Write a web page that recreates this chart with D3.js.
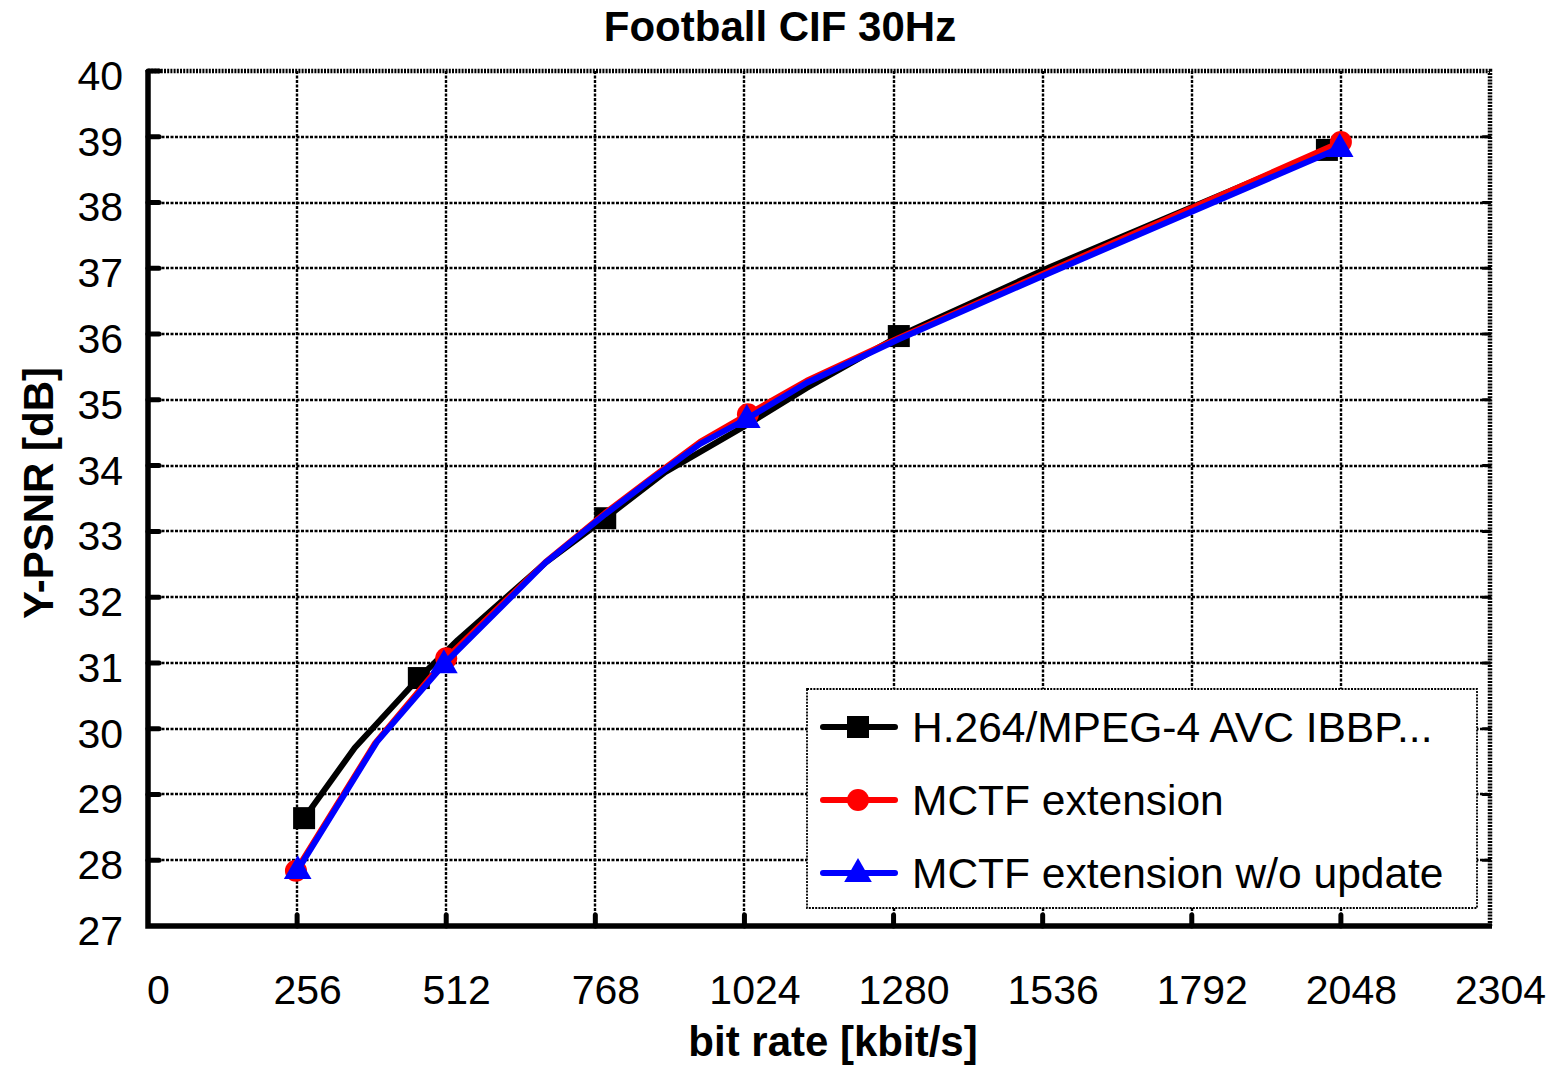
<!DOCTYPE html>
<html>
<head>
<meta charset="utf-8">
<script src="https://cdn.jsdelivr.net/npm/d3@7"></script>
<style>
  html, body { margin: 0; padding: 0; background: #fff; }
  svg { display: block; font-family: "Liberation Sans", Arial, sans-serif; }
</style>
</head>
<body>
<svg id="chart" width="1552" height="1065"></svg>
<script>
// Rate-distortion curves, Football CIF 30Hz
const xTicks = [0, 256, 512, 768, 1024, 1280, 1536, 1792, 2048, 2304];
const yTicks = [27, 28, 29, 30, 31, 32, 33, 34, 35, 36, 37, 38, 39, 40];

// H.264/MPEG-4 AVC IBBP... (bit rate kbit/s, Y-PSNR dB)
const avcRate = [268, 355, 465, 532, 682, 785, 888, 1028, 1131, 1289, 1549, 2024];
const avcPsnr = [28.64, 29.71, 30.77, 31.35, 32.52, 33.20, 33.90, 34.62, 35.18, 35.97, 37.02, 38.80];
const avcMarked = [268, 465, 785, 1289, 2024];

// MCTF extension
const mctfRate = [254, 390, 512, 682, 785, 867, 948, 1030, 1131, 1289, 1540, 2048];
const mctfPsnr = [27.84, 29.78, 31.07, 32.53, 33.28, 33.83, 34.36, 34.78, 35.29, 35.94, 36.93, 38.92];
const mctfMarked = [254, 512, 1030, 2048];

// MCTF extension w/o update
const noUpdRate = [257, 393, 508, 682, 785, 867, 948, 1028, 1131, 1289, 1540, 2046];
const noUpdPsnr = [27.85, 29.80, 30.98, 32.52, 33.26, 33.81, 34.33, 34.71, 35.26, 35.92, 36.90, 38.83];
const noUpdMarked = [257, 508, 1028, 2046];

const seriesNames = ["H.264/MPEG-4 AVC IBBP...", "MCTF extension", "MCTF extension w/o update"];
const seriesColors = ["#000000", "#ff0000", "#0000ff"];
const seriesShapes = ["square", "circle", "triangle"];

const svg = d3.select("#chart");
const pL = 148, pR = 1490, pT = 71, pB = 926;

const x = d3.scaleLinear().domain([0, 2304]).range([pL, pR]);
const y = d3.scaleLinear().domain([27, 40]).range([pB, pT]);

// grid
const grid = svg.append("g").attr("stroke", "#000").attr("stroke-width", 2.4)
  .attr("stroke-dasharray", "3,1.5");
grid.selectAll("line.v").data(xTicks.slice(1, -1)).join("line").attr("class", "v")
  .attr("x1", d => Math.round(x(d))).attr("x2", d => Math.round(x(d))).attr("y1", pT).attr("y2", pB);
grid.selectAll("line.h").data(yTicks.slice(1, -1)).join("line").attr("class", "h")
  .attr("x1", pL).attr("x2", pR).attr("y1", d => Math.round(y(d))).attr("y2", d => Math.round(y(d)));

// dotted top and right frame
svg.append("path")
  .attr("d", `M${pL},${pT}H${pR}V${pB}`)
  .attr("fill", "none").attr("stroke", "#000").attr("stroke-width", 4.5)
  .attr("stroke-dasharray", "2,1.2");

// axes with labels
const xAxis = d3.axisBottom(x).tickValues(xTicks).tickFormat(d3.format("d"))
  .tickSize(0).tickPadding(49);
const gx = svg.append("g").attr("transform", `translate(0,${pB})`).call(xAxis);
gx.select(".domain").remove();
gx.selectAll("text").attr("font-size", 41).attr("fill", "#000")
  .attr("font-family", "Liberation Sans, Arial, sans-serif").attr("dx", 10);

const yAxis = d3.axisLeft(y).tickValues(yTicks).tickSize(0).tickPadding(25);
const gy = svg.append("g").attr("transform", `translate(${pL},0)`).call(yAxis);
gy.select(".domain").remove();
gy.selectAll("text").attr("font-size", 41).attr("fill", "#000")
  .attr("font-family", "Liberation Sans, Arial, sans-serif").attr("dy", "0.45em");

// solid left and bottom axis lines
svg.append("path")
  .attr("d", `M${pL},${pT - 1}V${pB}H${pR + 2}`)
  .attr("fill", "none").attr("stroke", "#000").attr("stroke-width", 5.5)
  .attr("stroke-linejoin", "miter");

// tick stubs
const stubs = svg.append("g").attr("stroke", "#000").attr("stroke-linecap", "round");
stubs.selectAll("line.yl").data(yTicks.slice(1)).join("line").attr("class", "yl")
  .attr("x1", pL).attr("x2", pL + 11).attr("y1", d => y(d)).attr("y2", d => y(d))
  .attr("stroke-width", 5);
stubs.selectAll("line.xb").data(xTicks.slice(1, -1)).join("line").attr("class", "xb")
  .attr("x1", d => x(d)).attr("x2", d => x(d)).attr("y1", pB).attr("y2", pB - 11)
  .attr("stroke-width", 5);
stubs.selectAll("line.yr").data(yTicks.slice(1, -1)).join("line").attr("class", "yr")
  .attr("x1", pR).attr("x2", pR - 7).attr("y1", d => y(d)).attr("y2", d => y(d))
  .attr("stroke-width", 3);

// series
const series = [
  { rate: avcRate, psnr: avcPsnr, marked: avcMarked },
  { rate: mctfRate, psnr: mctfPsnr, marked: mctfMarked },
  { rate: noUpdRate, psnr: noUpdPsnr, marked: noUpdMarked }
];

const line = d3.line().x(d => x(d[0])).y(d => y(d[1]));

function drawMarker(g, shape, cx, cy, color) {
  if (shape === "square") {
    g.append("rect").attr("x", cx - 11).attr("y", cy - 11).attr("width", 22).attr("height", 22)
      .attr("fill", color);
  } else if (shape === "circle") {
    g.append("circle").attr("cx", cx).attr("cy", cy).attr("r", 11).attr("fill", color);
  } else {
    const sym = d3.symbol().type(d3.symbolTriangle).size(330);
    g.append("path").attr("d", sym()).attr("transform", `translate(${cx},${cy + 1})`)
      .attr("fill", color);
  }
}

const plot = svg.append("g");
series.forEach((s, i) => {
  const pts = s.rate.map((r, k) => [r, s.psnr[k]]);
  plot.append("path").datum(pts).attr("d", line)
    .attr("fill", "none").attr("stroke", seriesColors[i]).attr("stroke-width", 6)
    .attr("stroke-linejoin", "round").attr("stroke-linecap", "round");
  const mg = plot.append("g");
  pts.filter(p => s.marked.includes(p[0])).forEach(p =>
    drawMarker(mg, seriesShapes[i], x(p[0]), y(p[1]), seriesColors[i]));
});

// legend
const lg = svg.append("g");
lg.append("rect").attr("x", 807).attr("y", 689).attr("width", 670).attr("height", 219)
  .attr("fill", "#fff").attr("stroke", "#000").attr("stroke-width", 1.8)
  .attr("stroke-dasharray", "2,1.2");
const rowY = [727, 800, 873];
seriesNames.forEach((name, i) => {
  const ry = rowY[i];
  lg.append("line").attr("x1", 823).attr("x2", 895).attr("y1", ry).attr("y2", ry)
    .attr("stroke", seriesColors[i]).attr("stroke-width", 6).attr("stroke-linecap", "round");
  drawMarker(lg, seriesShapes[i], 858, ry, seriesColors[i]);
  lg.append("text").attr("x", 912).attr("y", ry).attr("dy", "0.36em")
    .attr("font-size", 42.5).attr("fill", "#000").text(name);
});

// titles
svg.append("text").attr("x", 780).attr("y", 41).attr("text-anchor", "middle")
  .attr("font-size", 42).attr("font-weight", "bold").text("Football CIF 30Hz");
svg.append("text").attr("x", 833).attr("y", 1056).attr("text-anchor", "middle")
  .attr("font-size", 42).attr("font-weight", "bold").text("bit rate [kbit/s]");
svg.append("text").attr("transform", "translate(53,493) rotate(-90)")
  .attr("text-anchor", "middle").attr("font-size", 42).attr("font-weight", "bold")
  .text("Y-PSNR [dB]");
</script>
</body>
</html>
